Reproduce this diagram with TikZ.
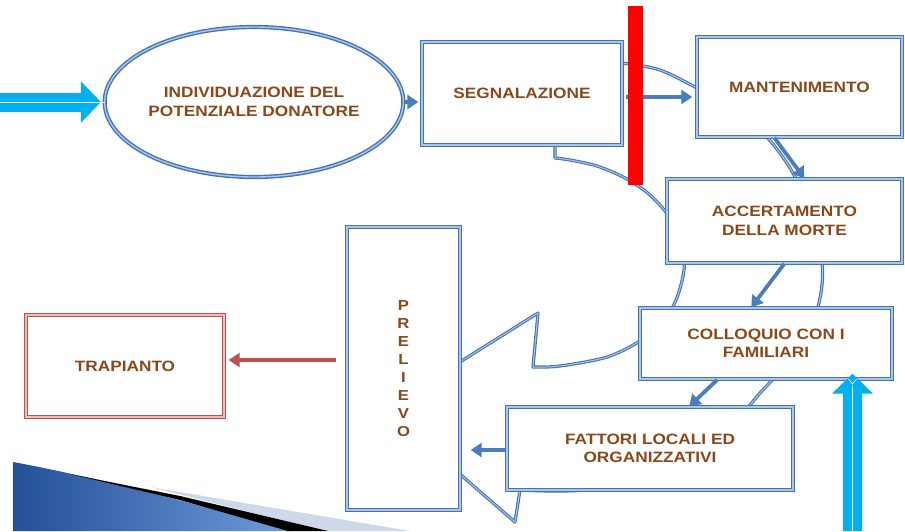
\documentclass[tikz,border=0pt]{standalone}
\usepackage{fontspec}
\usetikzlibrary{shapes.geometric,arrows.meta,calc}
\newfontfamily\lblfont{Liberation Sans}[FakeStretch=1.15]
\definecolor{txtbrown}{RGB}{138,72,26}
\definecolor{boxblue}{RGB}{70,116,178}
\definecolor{boxlight}{RGB}{172,198,232}
\definecolor{arrblue}{RGB}{76,124,186}
\definecolor{trapred}{RGB}{192,80,77}
\definecolor{traplight}{RGB}{238,190,190}
\definecolor{cyanarr}{RGB}{0,176,240}
\definecolor{swooshdark}{RGB}{35,80,150}
\definecolor{swooshlight}{RGB}{110,155,220}
\definecolor{swooshpale}{RGB}{205,216,232}
\begin{document}
\begin{tikzpicture}[x=1pt,y=-1pt,
  lbl/.style={font=\lblfont\bfseries\fontsize{15}{18.5}\selectfont, text=txtbrown, align=center},
  box/.style={lbl, draw=boxblue, double=boxlight, double distance=1.4pt, line width=1.4pt, fill=white, inner sep=0pt},
  redbox/.style={lbl, draw=trapred, double=traplight, double distance=1.4pt, line width=1.4pt, fill=white, inner sep=0pt},
  ring/.style={draw=boxblue, double=boxlight, double distance=1pt, line width=1.1pt, fill=white, line join=round},
  conn/.style={draw=arrblue, line width=3.8pt, -{Triangle[length=11pt,width=14pt]}},
  redconn/.style={draw=trapred, line width=3.6pt, -{Triangle[length=11pt,width=14pt]}},
  bigcyan/.style={draw=cyanarr, line width=19pt, -{Triangle[length=20pt,width=40pt]}},
  whiteline/.style={draw=white, line width=0.7pt}
]
\useasboundingbox[fill=white] (0,0) rectangle (905,531);

% bottom-left swoosh decoration
\fill[swooshpale] (150,487) -- (410,531) -- (325,531) -- cycle;
\shade[left color=swooshdark, right color=swooshlight] (13,462) .. controls (100,478) and (200,505) .. (290,531) -- (13,531) -- cycle;
\fill[black] (70,474) -- (180,496) -- (328,531) -- (288,531) -- (180,500) -- cycle;

% big circular arrow (behind the boxes)
\draw[ring] (555,60) -- plot[smooth, tension=0.55] coordinates {(555,158) (570,160) (597,166) (625,178) (650,195) (670,218) (682,245) (684,270) (676,300) (662,323) (640,341) (607,357) (560,366) (533,367)}
  -- (538,313) -- (385,409) -- (515,522) -- (520,490)
  -- plot[smooth, tension=0.55] coordinates {(520,490) (600,488) (680,455) (735,420) (760,393) (790,360) (812,325) (822,285) (820,245) (808,205) (790,168) (765,135) (730,105) (697,88) (660,70) (622,63) (590,60) (555,60)}
  -- cycle;

% nodes
\node[ellipse, lbl, draw=boxblue, double=boxlight, double distance=1.4pt, line width=1.4pt, fill=white, inner sep=0pt, minimum width=258, minimum height=150] (ell) at (254,102) {INDIVIDUAZIONE DEL\\POTENZIALE DONATORE};
\node[box, minimum width=200, minimum height=103] (seg) at (522,93.5) {SEGNALAZIONE};
\node[box, minimum width=205, minimum height=100] (mant) at (799.5,87) {MANTENIMENTO};
\node[box, minimum width=235, minimum height=84] (acc) at (784.5,221) {ACCERTAMENTO\\DELLA MORTE};
\node[box, minimum width=252, minimum height=71] (coll) at (766,343.5) {COLLOQUIO CON I\\FAMILIARI};
\node[box, minimum width=286, minimum height=83] (fatt) at (650,448.5) {FATTORI LOCALI ED\\ORGANIZZATIVI};
\node[box, font=\lblfont\bfseries\fontsize{14.5}{18}\selectfont, minimum width=113, minimum height=283] (prel) at (403.5,368.5) {P\\R\\E\\L\\I\\E\\V\\O};
\node[redbox, minimum width=198, minimum height=102] (trap) at (125,366) {TRAPIANTO};

% connectors
\draw[conn, shorten <=1pt, shorten >=3pt] (ell.east) -- (ell.east -| seg.west);
\draw[conn] ($(seg.east)+(3,3.5)$) -- ($(seg.east -| mant.west)+(-4,3.5)$);
\draw[conn] ($(mant.south west)+(78,0)$) -- ($(acc.north west)+(138,0)$);
\draw[conn] ($(acc.south west)+(118,0)$) -- ($(coll.north west)+(112,0)$);
\draw[conn] ($(coll.south west)+(78,0)$) -- ($(fatt.north west)+(183,0)$);
\draw[conn] ($(fatt.west)+(-1,1.5)$) -- ($(prel.east |- fatt.west)+(10,1.5)$);
\draw[redconn] ($(prel.west)+(-10,-8.5)$) -- ($(trap.east |- prel.west)+(4,-8.5)$);

% cyan input arrows
\coordinate (inL) at (0,102);
\draw[bigcyan, shorten >=3pt] (inL) -- (ell.west);
\draw[whiteline] (inL) -- (105,102);
\draw[whiteline] (113,98.5) -- (108.5,102) -- (113,105.5);
\coordinate (inB) at (852.5,531);
\draw[bigcyan, shorten >=-6pt] (inB) -- (inB |- coll.south);
\draw[whiteline] (inB) -- (852.5,386);
\draw[whiteline] (848.5,379) -- (852.5,384) -- (856.5,379);

% red bar
\fill[red] (628,6) rectangle (643,185);
\end{tikzpicture}
\end{document}
